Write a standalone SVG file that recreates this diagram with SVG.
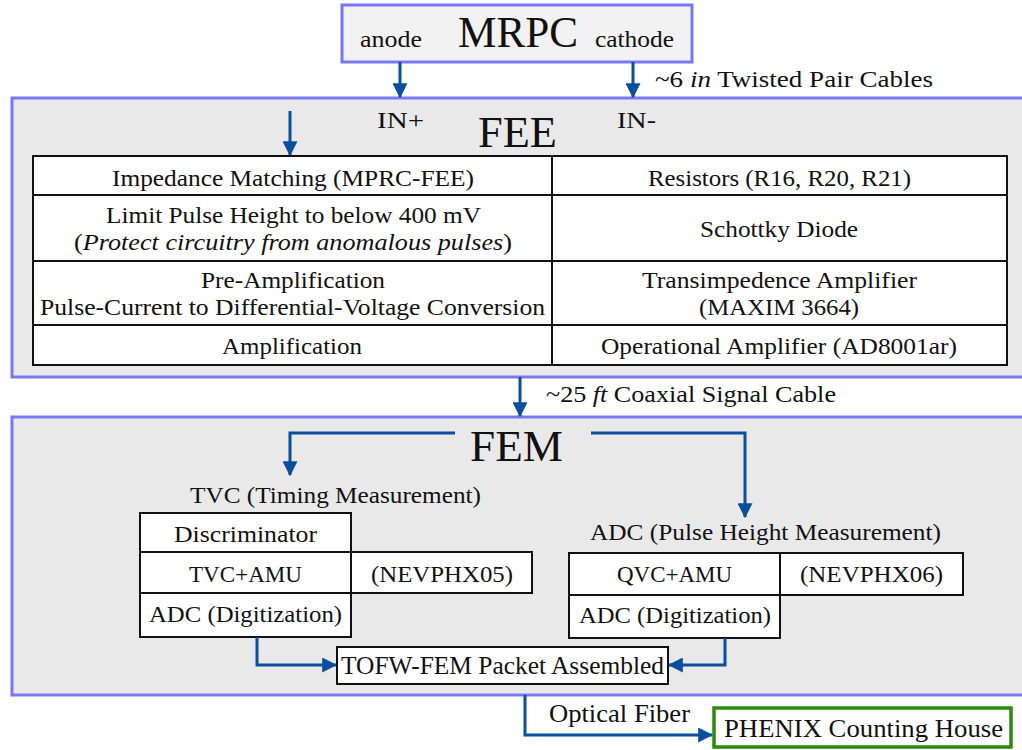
<svg xmlns="http://www.w3.org/2000/svg" width="1022" height="750" viewBox="0 0 1022 750">
<style>
text{font-family:"Liberation Serif","Times New Roman",serif;fill:#111;}
.t{font-size:24px;}
.c{text-anchor:middle;}
.big{font-size:44px;}
.cond{font-size:25px;}
.panel{fill:#e9e9e9;stroke:#7878f0;stroke-width:3;}
.cell{fill:#fff;stroke:#111;stroke-width:2;}
.wire{fill:none;stroke:#0b4f9c;stroke-width:3;}
</style>
<defs>
<marker id="ah" markerWidth="5" markerHeight="5" refX="4.6" refY="2.5" orient="auto" markerUnits="strokeWidth">
<path d="M0,0 L5,2.5 L0,5 Z" fill="#0b4f9c"/>
</marker>
</defs>
<rect width="1022" height="750" fill="#fff"/>

<g id="mrpc">
<rect x="342" y="5" width="350" height="57" fill="#f2f2f2" stroke="#7878f0" stroke-width="3"/>
<text class="big" x="458" y="47" textLength="120" lengthAdjust="spacingAndGlyphs">MRPC</text>
<text class="t" x="360" y="47" textLength="62" lengthAdjust="spacingAndGlyphs">anode</text>
<text class="t" x="595" y="47" textLength="79" lengthAdjust="spacingAndGlyphs">cathode</text>
</g>

<g id="fee">
<rect class="panel" x="12" y="98" width="1014" height="279"/>
<text class="t" x="377" y="128" textLength="47" lengthAdjust="spacingAndGlyphs">IN+</text>
<text class="t" x="617" y="128" textLength="39" lengthAdjust="spacingAndGlyphs">IN-</text>
<text class="big" x="478" y="147" textLength="79" lengthAdjust="spacingAndGlyphs">FEE</text>
<rect class="cell" x="33" y="156" width="974" height="209"/>
<path d="M552,156 V365 M33,195 H1007 M33,261 H1007 M33,325 H1007" stroke="#111" stroke-width="2"/>
<text class="t" x="112" y="186" textLength="362" lengthAdjust="spacingAndGlyphs">Impedance Matching (MPRC-FEE)</text>
<text class="t" x="648" y="186" textLength="263" lengthAdjust="spacingAndGlyphs">Resistors (R16, R20, R21)</text>
<text class="t" x="106" y="223" textLength="375" lengthAdjust="spacingAndGlyphs">Limit Pulse Height to below 400 mV</text>
<text class="t" x="74" y="250" textLength="438" lengthAdjust="spacingAndGlyphs">(<tspan font-style="italic">Protect circuitry from anomalous pulses</tspan>)</text>
<text class="t" x="700" y="237" textLength="158" lengthAdjust="spacingAndGlyphs">Schottky Diode</text>
<text class="t" x="201" y="288" textLength="184" lengthAdjust="spacingAndGlyphs">Pre-Amplification</text>
<text class="t" x="40" y="315" textLength="505" lengthAdjust="spacingAndGlyphs">Pulse-Current to Differential-Voltage Conversion</text>
<text class="t" x="642" y="288" textLength="275" lengthAdjust="spacingAndGlyphs">Transimpedence Amplifier</text>
<text class="t" x="699" y="315" textLength="160" lengthAdjust="spacingAndGlyphs">(MAXIM 3664)</text>
<text class="t" x="222" y="354" textLength="140" lengthAdjust="spacingAndGlyphs">Amplification</text>
<text class="t" x="601" y="354" textLength="356" lengthAdjust="spacingAndGlyphs">Operational Amplifier (AD8001ar)</text>
</g>

<g id="fem">
<rect class="panel" x="12" y="417" width="1014" height="278"/>
<text class="big" x="470" y="461" textLength="93" lengthAdjust="spacingAndGlyphs">FEM</text>
<text class="t" x="190" y="503" textLength="291" lengthAdjust="spacingAndGlyphs">TVC (Timing Measurement)</text>
<text class="t" x="590" y="540" textLength="351" lengthAdjust="spacingAndGlyphs">ADC (Pulse Height Measurement)</text>
</g>

<g id="tvc">
<rect class="cell" x="140" y="513" width="211" height="124"/>
<path d="M140,552 H351 M140,593 H351" stroke="#111" stroke-width="2"/>
<text class="t" x="174" y="542" textLength="143" lengthAdjust="spacingAndGlyphs">Discriminator</text>
<text class="t" x="189" y="582" textLength="113" lengthAdjust="spacingAndGlyphs">TVC+AMU</text>
<text class="t" x="149" y="622" textLength="193" lengthAdjust="spacingAndGlyphs">ADC (Digitization)</text>
</g>
<g id="nevphx05">
<rect class="cell" x="351" y="552" width="181" height="41"/>
<text class="t" x="371" y="582" textLength="142" lengthAdjust="spacingAndGlyphs">(NEVPHX05)</text>
</g>

<g id="adc">
<rect class="cell" x="569" y="553" width="211" height="85"/>
<path d="M569,595 H780" stroke="#111" stroke-width="2"/>
<text class="t" x="617" y="582" textLength="115" lengthAdjust="spacingAndGlyphs">QVC+AMU</text>
<text class="t" x="579" y="623" textLength="192" lengthAdjust="spacingAndGlyphs">ADC (Digitization)</text>
</g>
<g id="nevphx06">
<rect class="cell" x="780" y="553" width="183" height="42"/>
<text class="t" x="800" y="582" textLength="143" lengthAdjust="spacingAndGlyphs">(NEVPHX06)</text>
</g>

<g id="packet">
<rect class="cell" x="337" y="647" width="331" height="37"/>
<text class="cond" x="341" y="674" textLength="323" lengthAdjust="spacingAndGlyphs">TOFW-FEM Packet Assembled</text>
</g>

<g id="phenix">
<rect x="714" y="708" width="297" height="39" fill="#fff" stroke="#2a8a10" stroke-width="3.5"/>
<text class="cond" x="724" y="737" textLength="279" lengthAdjust="spacingAndGlyphs">PHENIX Counting House</text>
</g>

<g id="labels">
<text class="t" x="655" y="87" textLength="278" lengthAdjust="spacingAndGlyphs">~6 <tspan font-style="italic">in</tspan> Twisted Pair Cables</text>
<text class="t" x="546" y="402" textLength="290" lengthAdjust="spacingAndGlyphs">~25 <tspan font-style="italic">ft</tspan> Coaxial Signal Cable</text>
<text class="cond" x="549" y="722" textLength="141" lengthAdjust="spacingAndGlyphs">Optical Fiber</text>
</g>

<g id="connectors">
<path class="wire" d="M400,62 V97" marker-end="url(#ah)"/>
<path class="wire" d="M633,62 V97" marker-end="url(#ah)"/>
<path class="wire" d="M290,111 V155" marker-end="url(#ah)"/>
<path class="wire" d="M520,377 V416" marker-end="url(#ah)"/>
<path class="wire" d="M455,433 H290 V475" marker-end="url(#ah)"/>
<path class="wire" d="M591,433 H745 V517" marker-end="url(#ah)"/>
<path class="wire" d="M257,637 V665 H336" marker-end="url(#ah)"/>
<path class="wire" d="M725,638 V665 H669" marker-end="url(#ah)"/>
<path class="wire" d="M525,695 V735 H712" marker-end="url(#ah)"/>
</g>
</svg>
